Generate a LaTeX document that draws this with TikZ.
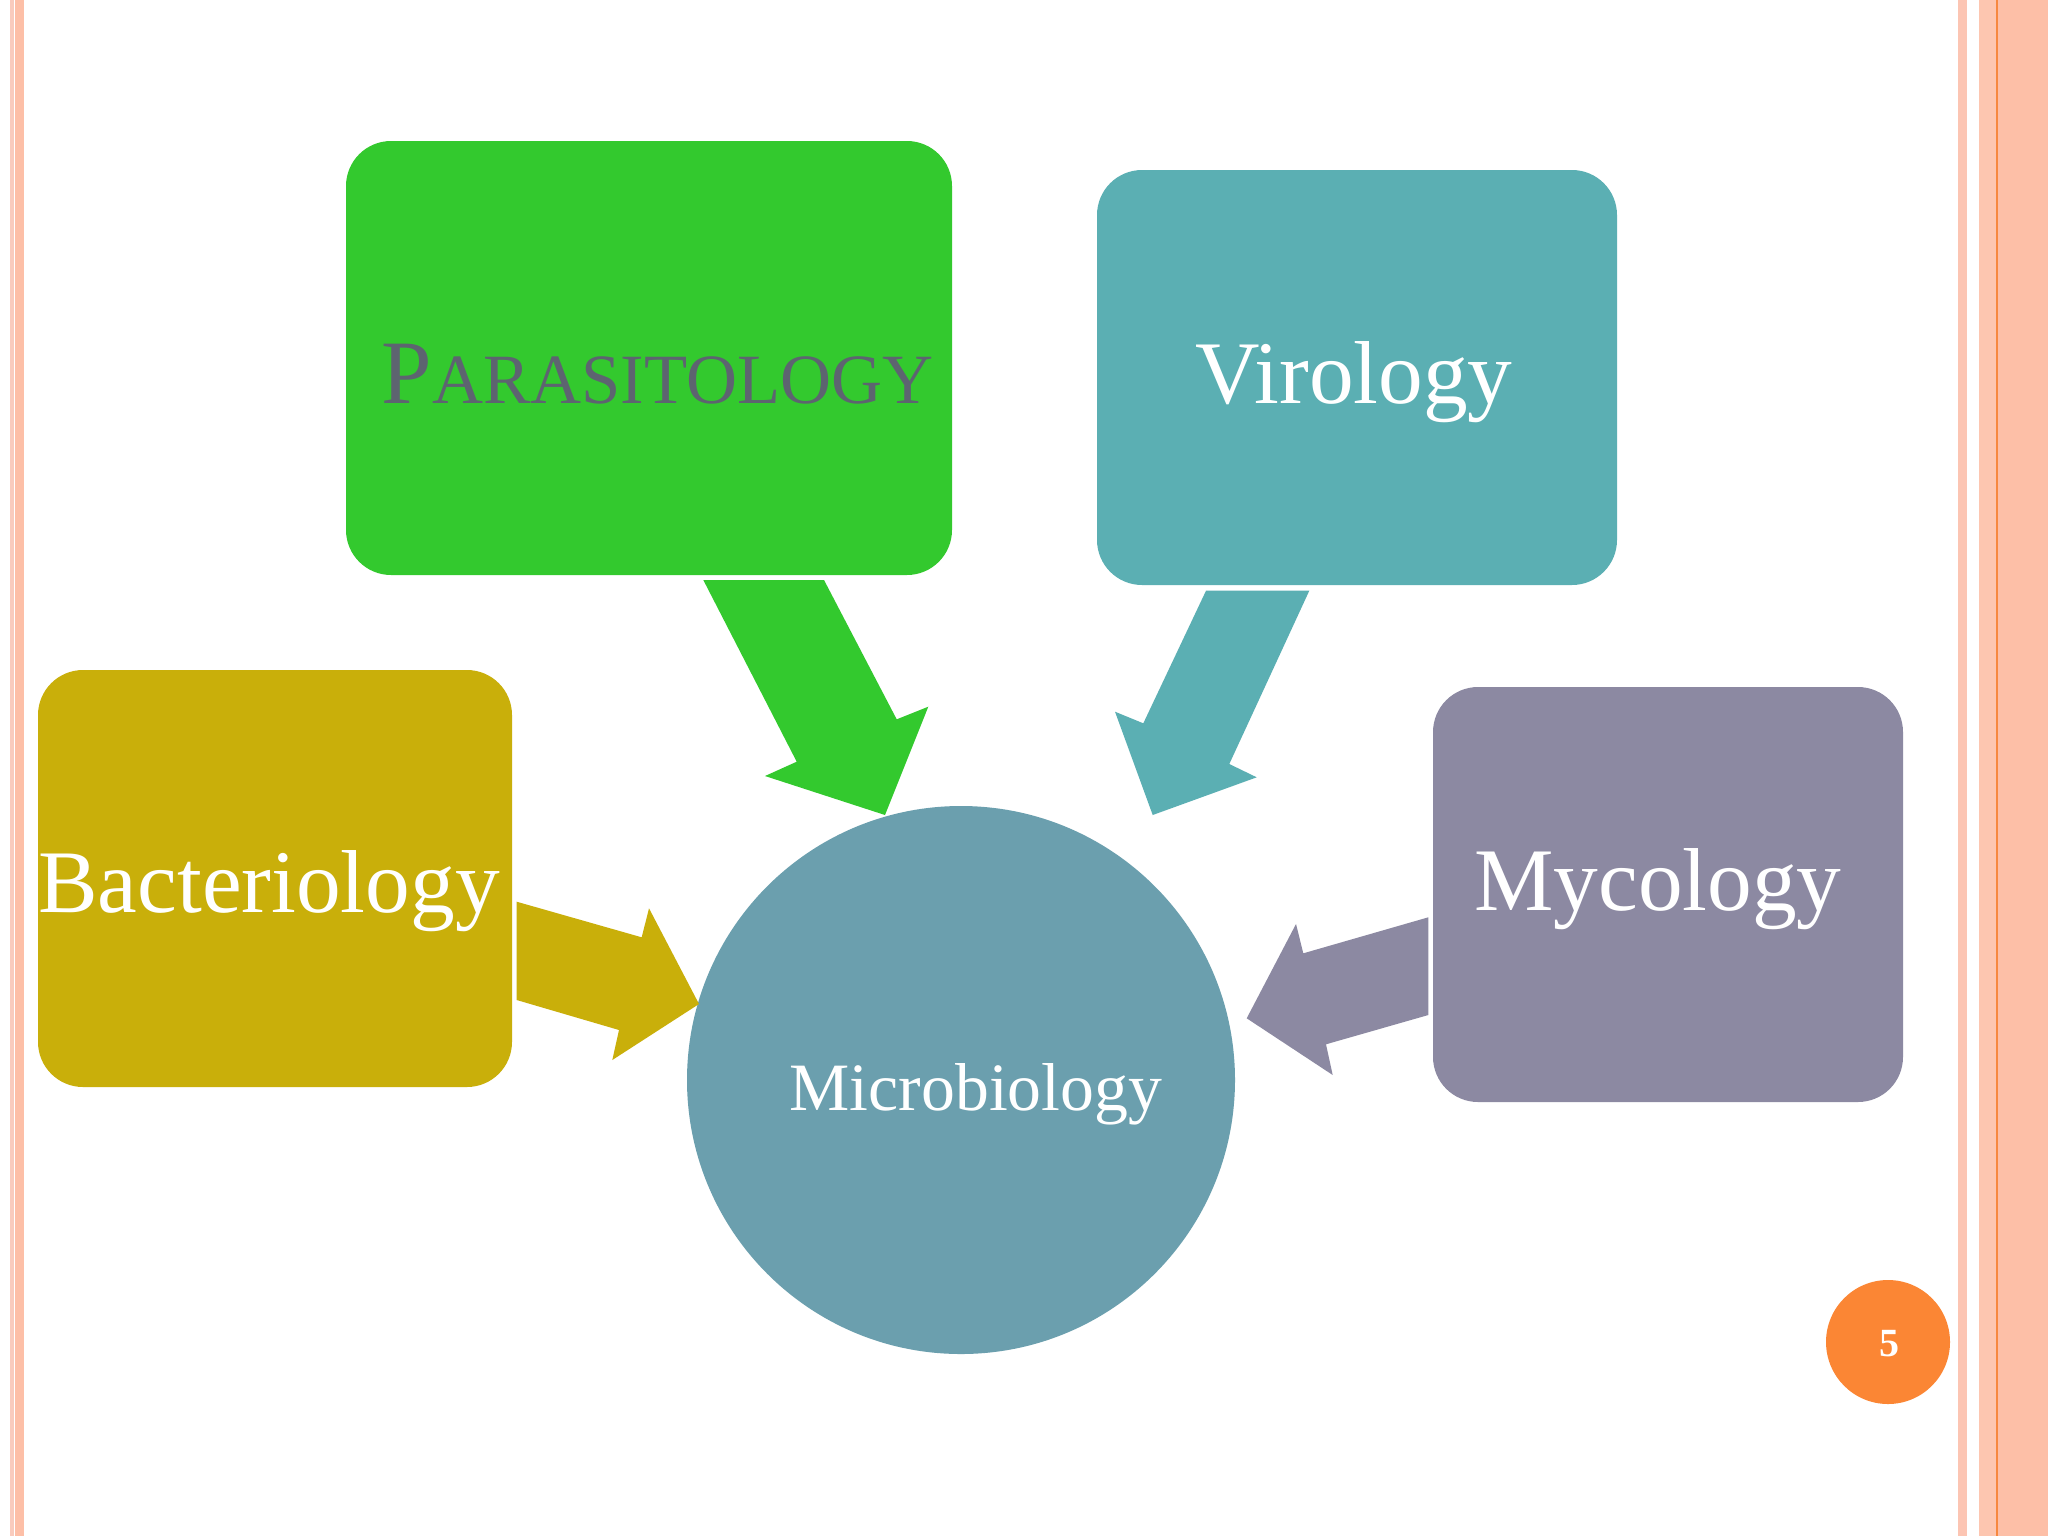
\documentclass[tikz,border=0pt]{standalone}
\usepackage{fontspec}
\setmainfont{Liberation Serif}
\definecolor{cGreen}{HTML}{33C92E}
\definecolor{cTeal}{HTML}{5BAFB3}
\definecolor{cMustard}{HTML}{C9AF0A}
\definecolor{cPurple}{HTML}{8C89A2}
\definecolor{cCircle}{HTML}{6B9FAE}
\definecolor{cOrange}{HTML}{FB8634}
\definecolor{cStripeA}{HTML}{F9CBBD}
\definecolor{cStripeB}{HTML}{FDBFA7}
\definecolor{cStripeC}{HTML}{FCC5B3}
\definecolor{cStripeD}{HTML}{FDC6B0}
\definecolor{cStripeE}{HTML}{F7883F}
\definecolor{cSlate}{HTML}{5D6470}
\tikzset{
  pbox/.style={rectangle, rounded corners=16.9pt, draw=none, inner sep=0pt},
  lbl/.style={anchor=base, inner sep=0pt, text=white, font=\fontsize{33.5}{40}\selectfont},
}
\begin{document}
\begin{tikzpicture}[x=0.375pt,y=-0.375pt]
\useasboundingbox (0,0) rectangle (2048,1536);
\fill[white] (0,0) rectangle (2048,1536);
% border stripes
\fill[cStripeA] (10,0) rectangle (13.5,1536);
\fill[cStripeB] (15,0) rectangle (23.5,1536);
\fill[cStripeC] (1958,0) rectangle (1967,1536);
\fill[cStripeD] (1979,0) rectangle (1996,1536);
\fill[cStripeB] (1997.5,0) rectangle (2048,1536);
\fill[cStripeE] (1995.8,0) rectangle (1997.6,1536);
% boxes
\node[pbox, fill=cGreen, minimum width=606*0.375pt, minimum height=434*0.375pt] (para) at (649,358) {};
\node[pbox, fill=cTeal, minimum width=520*0.375pt, minimum height=415*0.375pt] (viro) at (1357,377.5) {};
\node[pbox, fill=cMustard, minimum width=474*0.375pt, minimum height=417*0.375pt] (bact) at (275,878.5) {};
\node[pbox, fill=cPurple, minimum width=470*0.375pt, minimum height=415*0.375pt] (myco) at (1668,894.5) {};
\node[circle, fill=cCircle, inner sep=0pt, minimum size=548*0.375pt] (micro) at (961,1080) {};
% block arrows
\fill[cGreen] (703.3,580) -- (824,580) -- (896.7,719.3) -- (928.3,706.7) -- (885,815) -- (765,776) -- (796.7,761.7) -- cycle;
\fill[cTeal] (1206,590.7) -- (1309.3,590.7) -- (1229.3,764) -- (1256.7,777.3) -- (1152.7,815) -- (1115,711.7) -- (1143.3,723.3) -- cycle;
\fill[cMustard] (516.7,901.7) -- (641.7,937.3) -- (649,908.3) -- (699,1004) -- (612.3,1060) -- (619,1030) -- (516.7,1000) -- cycle;
\fill[cPurple] (1428.3,917.3) -- (1303.3,953.3) -- (1296,924) -- (1246.7,1018.3) -- (1332.7,1075) -- (1326,1044.3) -- (1428.3,1015) -- cycle;
% labels
\node[lbl, text=cSlate] (paraT) at (657.5,403) {{\fontsize{34}{40}\selectfont P}{\fontsize{26.5}{40}\selectfont ARASITOLOGY}};
\node[lbl] (viroT) at (1354,403) {Virology};
\node[lbl] (bactT) at (269,912) {Bacteriology};
\node[lbl] (mycoT) at (1658,910) {Mycology};
\node[lbl, font=\fontsize{25.4}{30}\selectfont] (microT) at (976,1110) {Microbiology};
% page number
\node[circle, fill=cOrange, inner sep=0pt, minimum size=124*0.375pt] (page) at (1888,1342) {};
\node[text=white, font=\bfseries\fontsize{15}{18}\selectfont, inner sep=0pt] (pageT) at (1889,1343.5) {5};
\end{tikzpicture}
\end{document}
